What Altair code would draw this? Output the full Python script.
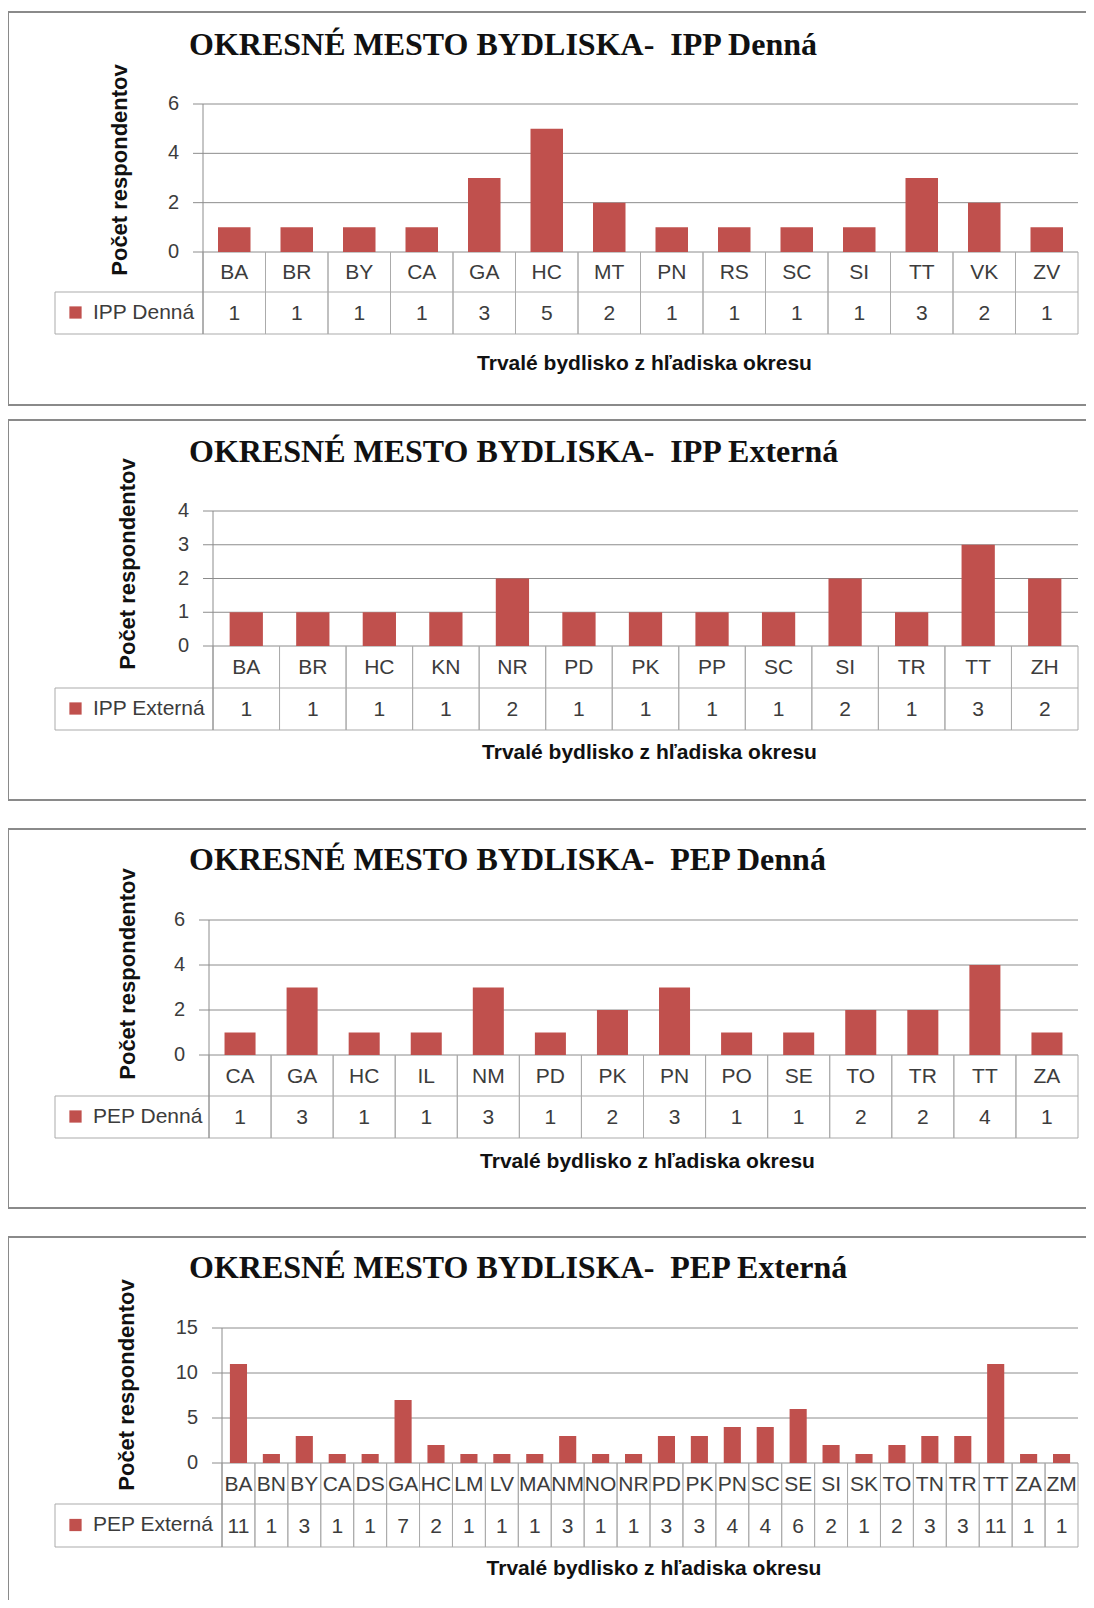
import altair as alt
import pandas as pd

# ---------------- data ----------------
TITLE_PREFIX = "OKRESNÉ MESTO BYDLISKA-\u00a0\u00a0"
Y_TITLE = "Počet respondentov"
X_TITLE = "Trvalé bydlisko z hľadiska okresu"

series_names = ["IPP Denná", "IPP Externá", "PEP Denná", "PEP Externá"]

ipp_denna_cats = ["BA", "BR", "BY", "CA", "GA", "HC", "MT", "PN", "RS", "SC", "SI", "TT", "VK", "ZV"]
ipp_denna_vals = [1, 1, 1, 1, 3, 5, 2, 1, 1, 1, 1, 3, 2, 1]

ipp_ext_cats = ["BA", "BR", "HC", "KN", "NR", "PD", "PK", "PP", "SC", "SI", "TR", "TT", "ZH"]
ipp_ext_vals = [1, 1, 1, 1, 2, 1, 1, 1, 1, 2, 1, 3, 2]

pep_denna_cats = ["CA", "GA", "HC", "IL", "NM", "PD", "PK", "PN", "PO", "SE", "TO", "TR", "TT", "ZA"]
pep_denna_vals = [1, 3, 1, 1, 3, 1, 2, 3, 1, 1, 2, 2, 4, 1]

pep_ext_cats = ["BA", "BN", "BY", "CA", "DS", "GA", "HC", "LM", "LV", "MA", "NM", "NO", "NR",
                "PD", "PK", "PN", "SC", "SE", "SI", "SK", "TO", "TN", "TR", "TT", "ZA", "ZM"]
pep_ext_vals = [11, 1, 3, 1, 1, 7, 2, 1, 1, 1, 3, 1, 1, 3, 3, 4, 4, 6, 2, 1, 2, 3, 3, 11, 1, 1]

y_ticks = [[0, 2, 4, 6], [0, 1, 2, 3, 4], [0, 2, 4, 6], [0, 5, 10, 15]]
y_max = [6, 4, 6, 15]

# ---------------- styles / layout (page pixels) ----------------
OFF = 8
RED = "#C0504D"
GRID = "#8c8c8c"
TABLE = "#ababab"
BORDER = "#8a8a8a"
TXT = "#3c3c3c"
SANS = "Liberation Sans"
SERIF = "Liberation Serif"

layouts = [
    dict(top=12, bottom=405, title_y=55, x0=203, x1=1078, ybot=252, ytop=104,
         r1=252, r2=292, r3=334, xt_y=364, yt_x=120, yt_y=170, bw=0.52),
    dict(top=420, bottom=800, title_y=462, x0=213, x1=1078, ybot=646, ytop=511,
         r1=646, r2=688, r3=730, xt_y=753, yt_x=128, yt_y=564, bw=0.5),
    dict(top=829, bottom=1208, title_y=870, x0=209, x1=1078, ybot=1055, ytop=920,
         r1=1055, r2=1096, r3=1138, xt_y=1162, yt_x=128, yt_y=974, bw=0.5),
    dict(top=1237, bottom=1640, title_y=1278, x0=222, x1=1078, ybot=1463, ytop=1328,
         r1=1463, r2=1504, r3=1547, xt_y=1569, yt_x=127, yt_y=1385, bw=0.52),
]

all_cats = [ipp_denna_cats, ipp_ext_cats, pep_denna_cats, pep_ext_cats]
all_vals = [ipp_denna_vals, ipp_ext_vals, pep_denna_vals, pep_ext_vals]


def v(px):
    return alt.value(px - OFF)


def panel(i):
    L = layouts[i]
    cats, vals, name = all_cats[i], all_vals[i], series_names[i]
    df = pd.DataFrame({"okres": cats, "pocet": vals, "seria": [name] * len(cats)})
    tdf = pd.DataFrame({"t": y_ticks[i]})
    one = pd.DataFrame({"k": [0]})

    xsc = alt.Scale(domain=cats, range=[L["x0"] - OFF, L["x1"] - OFF], paddingInner=0, paddingOuter=0)
    ysc = alt.Scale(domain=[0, y_max[i]], range=[L["ybot"] - OFF, L["ytop"] - OFF], nice=False)

    def X(bp=None):
        if bp is None:
            return alt.X("okres:N", scale=xsc, axis=None, sort=None)
        return alt.X("okres:N", scale=xsc, axis=None, sort=None, bandPosition=bp)

    base = alt.Chart(df)
    base1 = alt.Chart(one)

    border = base1.mark_rect(fillOpacity=0, stroke=BORDER, strokeWidth=2).encode(
        x=v(OFF), x2=v(1100), y=v(L["top"]), y2=v(L["bottom"]))

    grid = alt.Chart(tdf).mark_rule(color=GRID, strokeWidth=1).encode(
        y=alt.Y("t:Q", scale=ysc, axis=None),
        x=v(L["x0"] - 10), x2=v(L["x1"]))

    tick_labels = alt.Chart(tdf).mark_text(
        align="right", baseline="middle", font=SANS, fontSize=20, color=TXT).encode(
        y=alt.Y("t:Q", scale=ysc, axis=None), x=v(L["x0"] - 24), text="t:Q")

    axis_line = base1.mark_rule(color=GRID, strokeWidth=1).encode(
        x=v(L["x0"]), y=v(L["ytop"]), y2=v(L["r3"]))

    bars = base.mark_bar(width={"band": L["bw"]}).encode(
        x=X(),
        y=alt.Y("pocet:Q", scale=ysc, axis=None),
        color=alt.Color("seria:N", scale=alt.Scale(domain=[name], range=[RED]),
                        legend=alt.Legend(orient="none", legendX=65 - OFF,
                                          legendY=(L["r2"] + L["r3"]) / 2 - 11 - OFF,
                                          title=None, symbolType="square", symbolSize=150,
                                          symbolStrokeWidth=0, labelFont=SANS, labelFontSize=21,
                                          labelColor=TXT, labelOffset=7, padding=0)),
    )

    vlines0 = base.mark_rule(color=TABLE, strokeWidth=1).encode(
        x=X(0), y=v(L["r1"]), y2=v(L["r3"]))
    vlines1 = base.mark_rule(color=TABLE, strokeWidth=1).encode(
        x=X(1), y=v(L["r1"]), y2=v(L["r3"]))
    hline_a = base1.mark_rule(color=TABLE, strokeWidth=1).encode(
        x=v(55), x2=v(L["x1"]), y=v(L["r2"]))
    hline_b = base1.mark_rule(color=TABLE, strokeWidth=1).encode(
        x=v(55), x2=v(L["x1"]), y=v(L["r3"]))
    lline = base1.mark_rule(color=TABLE, strokeWidth=1).encode(
        x=v(55), y=v(L["r2"]), y2=v(L["r3"]))

    cat_text = base.mark_text(baseline="middle", font=SANS, fontSize=21, color=TXT).encode(
        x=X(), y=v((L["r1"] + L["r2"]) / 2 + 1), text="okres:N")
    val_text = base.mark_text(baseline="middle", font=SANS, fontSize=21, color=TXT).encode(
        x=X(), y=v((L["r2"] + L["r3"]) / 2 + 1), text="pocet:Q")

    title = base1.mark_text(align="left", baseline="alphabetic", font=SERIF, fontWeight="bold",
                            fontSize=32, color="#111111").encode(
        x=v(189), y=v(L["title_y"]), text=alt.value(TITLE_PREFIX + name))
    ytitle = base1.mark_text(angle=270, align="center", baseline="middle", font=SANS,
                             fontWeight="bold", fontSize=22, color="#111111").encode(
        x=v(L["yt_x"]), y=v(L["yt_y"]), text=alt.value(Y_TITLE))
    xtitle = base1.mark_text(align="center", baseline="middle", font=SANS, fontWeight="bold",
                             fontSize=21, color="#111111").encode(
        x=v((L["x0"] + L["x1"]) / 2 + 4), y=v(L["xt_y"]), text=alt.value(X_TITLE))

    return alt.layer(border, grid, tick_labels, vlines0, vlines1, hline_a, hline_b, lline,
                     axis_line, bars, cat_text, val_text, title, ytitle, xtitle)


chart = alt.layer(*[panel(i) for i in range(4)]).resolve_scale(
    x="independent", y="independent", color="independent"
).resolve_legend(color="independent").properties(
    width=1078, height=1592, padding=0, autosize="none", background="white"
).configure_view(stroke=None)

chart.save("out.html", embed_options={"renderer": "svg", "actions": False})
